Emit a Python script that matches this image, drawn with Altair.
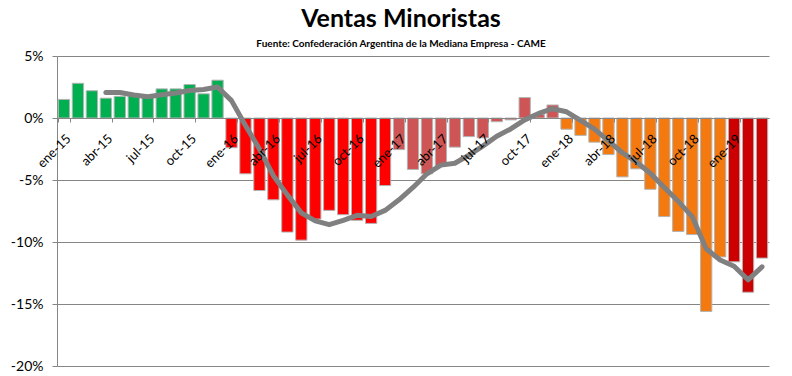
import altair as alt
import pandas as pd

months = ["ene", "feb", "mar", "abr", "may", "jun", "jul", "ago", "sep", "oct", "nov", "dic"]
years = ["15", "16", "17", "18", "19"]

# Monthly retail sales, y/y % change
v2015 = [1.5, 2.8, 2.2, 1.6, 1.75, 1.8, 1.7, 2.35, 2.35, 2.7, 1.95, 3.05]
v2016 = [-2.4, -4.5, -5.85, -6.6, -9.2, -9.85, -8.15, -7.45, -7.8, -8.25, -8.5, -5.45]
v2017 = [-2.55, -4.15, -4.5, -3.85, -2.35, -1.5, -1.6, -0.3, -0.15, 1.65, 0.3, 1.05]
v2018 = [-0.9, -1.4, -1.95, -2.95, -4.75, -4.1, -5.75, -7.95, -9.15, -9.4, -15.6, -11.2]
v2019 = [-11.6, -14.05, -11.3]

# Gray trend line, starts at abr-15
trend = [None, None, None,
         2.05, 2.05, 1.85, 1.72, 1.87, 2.02, 2.22, 2.3, 2.5,
         1.4, -0.6, -2.5, -4.65, -6.2, -7.65, -8.3, -8.6, -8.25, -7.85, -7.95, -7.45,
         -6.6, -5.6, -4.5, -3.8, -3.65, -3.0, -2.27, -1.47, -0.88, -0.15, 0.37, 0.75,
         0.5, -0.2, -0.9, -1.85, -2.8, -3.55, -4.45, -5.6, -6.72, -7.95, -10.55, -11.45,
         -11.95, -13.05, -12.0]

year_values = [v2015, v2016, v2017, v2018, v2019]
year_colors = ["#00B050", "#FF0000", "#CD5555", "#F4790F", "#CC0000"]

cats, vals, yrs = [], [], []
for y, vs in zip(years, year_values):
    for m, v in zip(months, vs):
        cats.append(f"{m}-{y}")
        vals.append(v)
        yrs.append("20" + y)

df = pd.DataFrame({"mes": cats, "valor": vals, "anio": yrs, "tendencia": trend})

tick_labels = cats[::3]

font = "Lato"

x_enc = alt.X(
    "mes:N",
    sort=cats,
    scale=alt.Scale(paddingInner=0.19, paddingOuter=0.095),
    axis=alt.Axis(
        title=None,
        values=tick_labels,
        labelAngle=-45,
        labelAlign="right",
        labelBaseline="top",
        labelFont=font,
        labelFontSize=13,
        labelColor="#000000",
        labelPadding=10,
        offset=-248,
        domainColor="#868686",
        tickColor="#868686",
        tickSize=4,
        tickBand="extent",
        labelOverlap=False,
        zindex=1,
    ),
)

y_scale = alt.Scale(domain=[-20, 5], nice=False)

bars = alt.Chart(df).mark_bar(stroke="#B4B4B4", strokeWidth=1).encode(
    x=x_enc,
    y=alt.Y(
        "valor:Q",
        scale=y_scale,
        axis=alt.Axis(
            title=None,
            values=[5, 0, -5, -10, -15, -20],
            labelExpr="datum.value + '%'",
            labelFont=font,
            labelFontSize=14,
            labelColor="#000000",
            labelPadding=9,
            tickSize=5,
            tickColor="#868686",
            domainColor="#868686",
            gridColor="#868686",
            gridWidth=1,
        ),
    ),
    color=alt.Color("anio:N", scale=alt.Scale(domain=["2015", "2016", "2017", "2018", "2019"], range=year_colors), legend=None),
)

line = alt.Chart(df).mark_line(color="#808080", strokeWidth=5, strokeCap="round", strokeJoin="round").encode(
    x=alt.X("mes:N", sort=cats),
    y=alt.Y("tendencia:Q", scale=y_scale),
)

chart = alt.layer(bars, line).properties(
    width=712,
    height=310,
    autosize=alt.AutoSizeParams(type="none"),
    padding={"left": 57, "top": 56, "right": 23, "bottom": 10},
    title=alt.TitleParams(
        text="Ventas Minoristas",
        subtitle="Fuente: Confederación Argentina de la Mediana Empresa - CAME",
        font=font,
        fontSize=25,
        fontWeight="bold",
        color="#000000",
        subtitleFont=font,
        subtitleFontSize=10,
        subtitleFontWeight="bold",
        subtitleColor="#000000",
        subtitlePadding=7,
        anchor="middle",
        dx=-12,
        offset=0,
    ),
).configure_view(stroke=None).configure_axisY(domain=True).configure_axisX(grid=False)

chart.save("out.html", embed_options={"renderer": "svg", "actions": False})
